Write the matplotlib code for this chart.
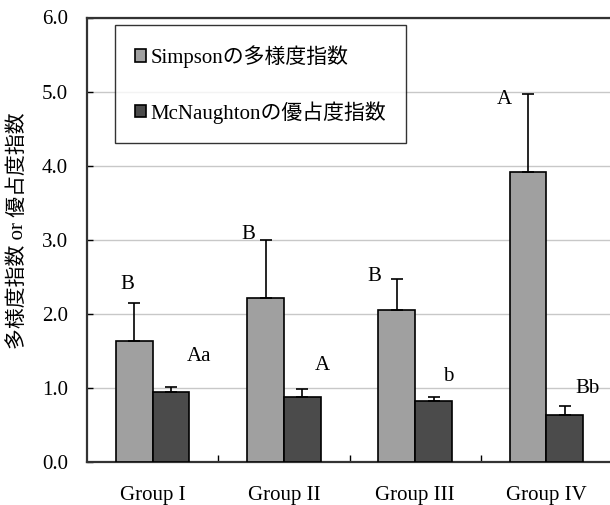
import matplotlib
matplotlib.use("Agg")
import matplotlib.pyplot as plt
import numpy as np
from matplotlib.ticker import FormatStrFormatter, FixedLocator

plt.rcParams['font.family'] = ['Liberation Serif', 'Noto Sans CJK JP']
plt.rcParams['font.size'] = 15

# data
groups = ["Group I", "Group II", "Group III", "Group IV"]
simpson = [1.64, 2.22, 2.05, 3.91]
simpson_err = [0.50, 0.77, 0.42, 1.06]
mcnaughton = [0.94, 0.88, 0.82, 0.63]
mcnaughton_err = [0.07, 0.10, 0.06, 0.13]
simpson_sig = ["B", "B", "B", "A"]
mcnaughton_sig = ["Aa", "A", "b", "Bb"]
# label heights (data units)
simpson_sig_y = [2.39, 3.07, 2.50, 4.89]
mcnaughton_sig_y = [1.42, 1.30, 1.15, 0.99]

labels = ["Simpsonの多様度指数", "McNaughtonの優占度指数"]
colors = ["#a0a0a0", "#4b4b4b"]

fig = plt.figure(figsize=(6.1, 5.05), dpi=100)
ax = fig.add_axes([87 / 610, 43 / 505, 525 / 610, 444.5 / 505])

x = np.arange(len(groups))
w = 0.28
ekw = dict(elinewidth=1.2, capthick=1.2, ecolor='black')
ax.bar(x - w / 2, simpson, w, color=colors[0], edgecolor='black', linewidth=1.2,
       yerr=[np.zeros(4), simpson_err], capsize=4.3, error_kw=ekw, label=labels[0], zorder=3)
ax.bar(x + w / 2, mcnaughton, w, color=colors[1], edgecolor='black', linewidth=1.2,
       yerr=[np.zeros(4), mcnaughton_err], capsize=4.3, error_kw=ekw, label=labels[1], zorder=3)

# significance letters
sx1 = [-0.19, -0.27, -0.31, -0.32]
sx2 = [0.35, 0.29, 0.25, 0.31]
for i in range(4):
    ax.text(x[i] + sx1[i], simpson_sig_y[i], simpson_sig[i], ha='center', va='center', fontsize=15)
    ax.text(x[i] + sx2[i], mcnaughton_sig_y[i], mcnaughton_sig[i], ha='center', va='center', fontsize=15)

ax.set_xlim(-0.5, 3.5)
ax.set_ylim(0, 6)
ax.set_yticks(np.arange(0, 6.1, 1.0))
ax.yaxis.set_major_formatter(FormatStrFormatter('%.1f'))
ax.grid(axis='y', color='#c8c8c8', linewidth=1.0, zorder=0)
ax.set_axisbelow(True)

ax.set_xticks(x)
ax.set_xticklabels(groups)
ax.xaxis.set_minor_locator(FixedLocator([0.5, 1.5, 2.5]))
ax.tick_params(axis='x', which='major', length=0, pad=17.5, labelsize=15)
ax.tick_params(axis='x', which='minor', direction='in', length=5, width=1.0, color='black')
ax.tick_params(axis='y', direction='in', length=4, width=1.0, pad=13.5, labelsize=15)

for s in ax.spines.values():
    s.set_linewidth(1.6)
    s.set_color('#333333')

ax.set_ylabel("多様度指数 or 優占度指数", fontsize=15)
ax.yaxis.set_label_coords(-0.113, 0.52)

leg = ax.legend(loc='upper left', bbox_to_anchor=(0.053, 0.983), frameon=True,
                fancybox=False, shadow=False, fontsize=15, handlelength=0.55,
                handleheight=0.55, handletextpad=0.2, labelspacing=1.6,
                borderpad=0.95, borderaxespad=0)
leg.get_frame().set_edgecolor('black')
leg.get_frame().set_linewidth(1.0)

fig.savefig("out.png", dpi=100)
